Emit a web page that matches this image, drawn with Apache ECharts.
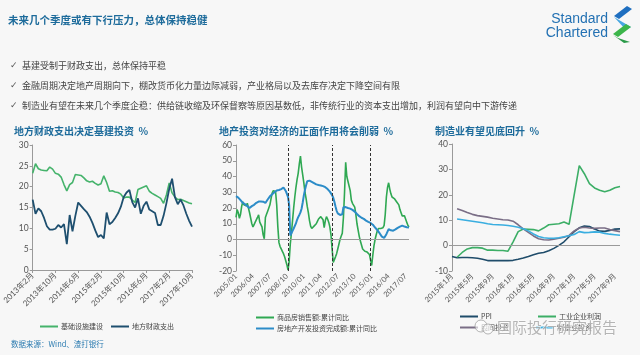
<!DOCTYPE html>
<html><head><meta charset="utf-8">
<script src="https://cdn.jsdelivr.net/npm/echarts@6/dist/echarts.min.js"></script>
<style>html,body{margin:0;padding:0;background:#f7f7f7}#c{width:640px;height:355px}</style>
</head><body><div id="c"></div><script>
// ---------- data ----------
function cnMonths(y, m, n){var a=[];for(var i=0;i<n;i++){a.push(y+'年'+m+'月');m++;if(m>12){m=1;y++;}}return a;}
function slashMonths(y, m, n){var a=[];for(var i=0;i<n;i++){a.push(y+'/'+(m<10?'0'+m:m));m++;if(m>12){m=1;y++;}}return a;}

// Chart 1: 地方财政支出决定基建投资 (2013年2月 - 2017年10月)
var months1 = cnMonths(2013, 2, 57);
var infraInvest = [23.2,25.5,24.3,24.0,23.9,23.8,24.7,24.2,23.2,23.0,
  22.3,20.5,19.0,20.5,21.0,22.9,22.8,22.7,22.1,21.4,
  21.1,21.3,20.8,20.4,20.7,22.6,21.0,18.9,19.0,18.7,
  18.6,18.2,17.3,17.5,17.5,16.8,16.2,19.3,19.6,19.9,
  20.2,18.9,18.4,18.0,17.6,17.2,16.0,18.0,20.9,18.5,
  17.5,16.9,17.0,16.7,16.4,16.1,15.9];
var localFiscal = [16.9,13.5,14.8,14.1,12.5,10.5,9.7,9.7,9.9,10.8,
  10.2,11.0,6.2,13.2,9.3,13.0,16.2,15.4,14.6,13.9,
  12.8,11.3,9.5,7.9,8.4,7.6,13.8,11.0,11.5,12.5,
  13.6,15.2,17.5,18.6,19.2,16.3,15.0,17.2,13.5,15.4,
  16.4,14.5,14.1,13.7,10.8,10.8,13.0,16.0,19.5,21.9,
  17.5,15.8,16.9,15.5,13.5,11.8,10.4];

// Chart 2: 地产投资对经济的正面作用将会削弱 (2005/01 - 2017/10)
var months2 = slashMonths(2005, 1, 154);
var houseSales = [14,19,17,13.5,16,21,24,22,21,21.5,
  23,22,17,13.5,10,8,9.5,11,11.5,14,
  15.7,11,12,8,3,0.5,14,16,18,20,
  22,26,29.5,31,31.5,30.5,22,8,-2,-4.5,
  -6,-7.5,-9,-11,-13.5,-16,-19.5,-14,-3,4,
  12,20,27,33,38,42,48,53,46,41,
  36,30,26,21,17,12,8.5,7,7.5,8.5,
  9,10,11.5,13,14,14.5,13.5,12.5,7.5,12,
  14.5,13,11,8,3,-6,-14.5,-13.5,-11,-9,
  -6,-3,0,2,4,14,30,49,40,37,
  36,31,25,23,22,20.5,16,10,6,2,
  -1,-3.5,-6,-7,-7.5,-8,-8,-8.5,-9.5,-10,
  -16.5,-10,-4,0,3,5.5,7,7.5,7,7,
  7.5,9,16,27,33,36,32,29,27,27.5,
  26,25,24,25,22,19,17,15,14.5,15,
  13,11,9,8];
var reInvest = [27.5,27.2,26.6,26.1,25.0,24.0,23.2,22.8,22.4,22.0,
  21.2,20.5,20.0,20.6,21.2,21.6,22.0,22.6,23.3,24.0,
  24.1,24.0,24.2,23.9,24.0,23.6,23.2,23.2,25.4,26.5,
  27.4,28.0,28.7,29.4,30.0,30.6,31.1,31.5,31.4,31.8,
  32.0,32.6,33.0,32.0,30.8,29.0,27.0,22.0,2.5,4.0,
  5.5,7.0,8.2,10.2,12.5,14.2,15.6,17.2,19.5,23.5,
  28.0,31.5,34.5,37.0,37.8,37.4,37.0,36.6,36.2,35.8,
  35.3,35.0,34.8,34.6,34.5,34.3,34.1,33.9,33.6,33.2,
  32.6,32.0,31.3,30.4,29.4,28.2,26.5,24.0,21.0,18.2,
  16.6,16.0,15.6,15.6,16.0,20.5,21.0,20.6,20.2,20.0,
  19.8,19.6,19.3,18.8,18.2,17.7,17.0,16.2,15.4,14.8,
  14.3,13.8,13.4,13.1,12.6,12.0,11.6,11.2,10.8,10.5,
  10.1,9.4,8.4,7.6,6.8,6.0,5.1,4.0,2.8,1.8,
  1.2,1.0,2.0,3.4,5.0,6.5,6.2,5.8,5.5,5.6,
  6.0,6.4,7.0,7.4,7.8,8.2,8.5,8.8,8.6,8.2,
  8.0,7.8,7.6,7.6];
var dashedMonths = ['2008/11','2012/02','2014/12'];

// Chart 3: 制造业有望见底回升 (2015年1月 - 2017年10月)
var months3 = cnMonths(2015, 1, 34);
var ppi = [-4.3,-4.8,-4.7,-4.7,-4.8,-5.0,-5.4,-5.9,-5.9,-5.9,
  -5.9,-5.9,-5.8,-5.4,-4.9,-4.3,-3.6,-3.0,-2.7,-2.0,
  -1.1,0.1,1.5,3.5,5.5,7.0,7.7,7.5,6.5,5.7,
  5.6,6.0,6.5,6.6];
var indProfit = [null,-4.6,-2.7,-1.3,-0.8,-0.8,-1.0,-1.8,-1.8,-1.9,
  -1.9,-2.2,1.5,5.5,6.5,6.4,6.3,5.8,6.9,8.2,
  8.4,8.6,9.3,8.4,20,31.5,28.3,24.4,22.7,21.8,
  21.2,21.8,22.8,23.3];
var privInvest = [null,14.5,13.8,13.0,12.3,11.8,11.5,11.2,10.8,10.5,
  10.2,10.1,9.6,8.2,6.6,5.2,3.8,2.7,2.3,2.2,
  2.5,2.9,3.3,4.0,5.8,6.9,7.2,6.9,6.8,6.9,
  6.9,6.3,5.9,5.5];
var mfgInvest = [null,10.5,10.2,9.9,9.6,9.3,9.0,8.6,8.3,8.2,
  8.1,7.9,7.6,7.2,6.6,5.8,4.6,3.6,3.1,2.9,
  2.9,3.1,3.5,3.9,4.4,5.5,5.1,5.2,5.4,5.3,
  4.8,4.5,4.3,4.1];

var bullets = [
  '基建受制于财政支出，总体保持平稳',
  '金融周期决定地产周期向下，棚改货币化力量边际减弱，产业格局以及去库存决定下降空间有限',
  '制造业有望在未来几个季度企稳：供给链收缩及环保督察等原因基数低，非传统行业的资本支出增加，利润有望向中下游传递'
];

// ---------- styles ----------
var CJK = '"Noto Sans CJK SC", sans-serif';
var NUM = 'Lato, "Noto Sans CJK SC", sans-serif';
var TITLE_C = '#1d6b9b';
var AX = '#9a9a9a';

function yAxis(gi, min, max, interval){
  return {gridIndex:gi, type:'value', min:min, max:max, interval:interval,
    axisLine:{show:true, lineStyle:{color:AX, width:1}},
    axisTick:{show:true, length:3, lineStyle:{color:AX}},
    splitLine:{show:false},
    axisLabel:{fontSize:8.5, color:'#555', fontFamily:NUM, margin:4}};
}
function xAxis(gi, data, interval, showLine, fs){
  return {gridIndex:gi, type:'category', data:data, boundaryGap:false,
    axisLine:{show:showLine, onZero:false, lineStyle:{color:AX, width:1}},
    axisTick:{show:showLine, length:3, interval:interval, lineStyle:{color:AX}},
    axisLabel:{interval:interval, rotate:45, fontSize:fs, color:'#555', fontFamily:NUM, margin:4}};
}
function line(name, gi, data, color, width, extra){
  var s = {name:name, type:'line', xAxisIndex:gi, yAxisIndex:gi, data:data,
    symbol:'none', connectNulls:false, lineStyle:{color:color, width:width}, itemStyle:{color:color}};
  if(extra){for(var k in extra) s[k]=extra[k];}
  return s;
}
function legend(names, left, top, orient){
  return {data:names, left:left, top:top, orient:orient||'horizontal', icon:'rect', itemWidth:18, itemHeight:2,
    itemGap:orient==='vertical'?4:8, padding:0,
    textStyle:{fontSize:7, color:'#444', fontFamily:CJK, padding:[0,0,0,-2]}};
}

var zeroLine = {silent:true, symbol:'none', label:{show:false},
  lineStyle:{color:'#9a9a9a', width:1, type:'solid'}, data:[{yAxis:0}]};

var graphics = [
  {type:'text', x:8, y:20, style:{text:'未来几个季度或有下行压力，总体保持稳健', fill:TITLE_C,
    font:'bold 10.5px "Noto Sans CJK SC"', verticalAlign:'middle'}},
  // logo
  {type:'text', x:608, y:19, style:{text:'Standard', fill:'#2371b3', font:'14px "Liberation Sans"', align:'right', verticalAlign:'middle'}},
  {type:'text', x:608, y:33, style:{text:'Chartered', fill:'#2371b3', font:'14px "Liberation Sans"', align:'right', verticalAlign:'middle'}},
  {type:'polygon', shape:{points:[[627,6],[632,9],[619,19],[614,16]]}, style:{fill:'#1f6fc0'}},
  {type:'polygon', shape:{points:[[614,17],[619,20],[631,27],[626,30]]}, style:{fill:'#47a7e2'}},
  {type:'polygon', shape:{points:[[626,24],[631,27],[618,37],[613,34]]}, style:{fill:'#3cb54a'}},
  {type:'polygon', shape:{points:[[613,35],[618,38],[630,42],[624,43]]}, style:{fill:'#2a9a48'}},
  // chart titles
  {type:'text', x:14, y:131.5, style:{text:'地方财政支出决定基建投资  %', fill:TITLE_C, font:'bold 10px "Noto Sans CJK SC"', verticalAlign:'middle'}},
  {type:'text', x:219, y:131.5, style:{text:'地产投资对经济的正面作用将会削弱  %', fill:TITLE_C, font:'bold 10px "Noto Sans CJK SC"', verticalAlign:'middle'}},
  {type:'text', x:435, y:131.5, style:{text:'制造业有望见底回升  %', fill:TITLE_C, font:'bold 10px "Noto Sans CJK SC"', verticalAlign:'middle'}},
  // source
  {type:'text', x:11, y:344, style:{text:'数据来源：Wind、渣打银行', fill:'#2b7bb0', font:'7.5px "Noto Sans CJK SC"', verticalAlign:'middle'}},
  // watermark
  {type:'circle', shape:{cx:481, cy:326, r:6}, style:{fill:'rgba(255,255,255,0.6)', stroke:'rgba(150,150,150,0.7)', lineWidth:1}, z:100},
  {type:'circle', shape:{cx:488, cy:329, r:5}, style:{fill:'rgba(255,255,255,0.6)', stroke:'rgba(150,150,150,0.7)', lineWidth:1}, z:100},
  {type:'text', x:497, y:327, z:100, style:{text:'国际投行研究报告', fill:'rgba(150,150,150,0.7)', stroke:'rgba(255,255,255,0.7)', lineWidth:1,
    font:'15px "Noto Sans CJK SC"', verticalAlign:'middle'}}
];
var bulletY = [66, 86, 106];
for (var i=0;i<bullets.length;i++){
  graphics.push({type:'text', x:10, y:bulletY[i], style:{text:'✓', fill:'#555', font:'9px "DejaVu Sans"', verticalAlign:'middle'}});
  graphics.push({type:'text', x:22, y:bulletY[i], style:{text:bullets[i], fill:'#444', font:'9px "Noto Sans CJK SC"', verticalAlign:'middle'}});
}

var option = {
  animation:false,
  backgroundColor:'#f7f7f7',
  textStyle:{fontFamily:CJK},
  grid:[
    {left:31, top:145, width:161, height:125},
    {left:236, top:145, width:173, height:126},
    {left:452, top:144, width:168, height:127}
  ],
  xAxis:[
    xAxis(0, months1, 7, true, 8),
    xAxis(1, months2, 14, false, 7.5),
    xAxis(2, months3, 3, false, 7.5)
  ],
  yAxis:[
    yAxis(0, 0, 30, 5),
    yAxis(1, -20, 60, 10),
    yAxis(2, -10, 40, 10)
  ],
  legend:[
    legend(['基础设施建设','地方财政支出'], 40, 323),
    legend(['商品房销售额:累计同比','房地产开发投资完成额:累计同比'], 256, 314, 'vertical'),
    legend(['PPI'], 460, 313),
    legend(['工业企业利润'], 538, 313),
    legend(['民间投资'], 460, 324),
    legend(['制造业投资'], 536, 324)
  ],
  series:[
    line('基础设施建设', 0, infraInvest, '#45b36b', 1.6),
    line('地方财政支出', 0, localFiscal, '#1e4f6f', 1.8),
    line('商品房销售额:累计同比', 1, houseSales, '#2fa852', 1.6, {
      markLine:{silent:true, symbol:'none', label:{show:false},
        lineStyle:{color:'#333', width:1, type:[3,2]},
        data:dashedMonths.map(function(m){return {xAxis:m};})}
    }),
    line('房地产开发投资完成额:累计同比', 1, reInvest, '#2c8cc8', 2, {markLine:zeroLine}),
    line('PPI', 2, ppi, '#1f4c6a', 1.6, {markLine:zeroLine}),
    line('工业企业利润', 2, indProfit, '#3cae66', 1.6),
    line('民间投资', 2, privInvest, '#7a6e86', 1.6),
    line('制造业投资', 2, mfgInvest, '#3aaee0', 1.6)
  ],
  graphic:graphics
};
var chart = echarts.init(document.getElementById('c'), null, {renderer:'canvas'});
chart.setOption(option);
</script></body></html>
